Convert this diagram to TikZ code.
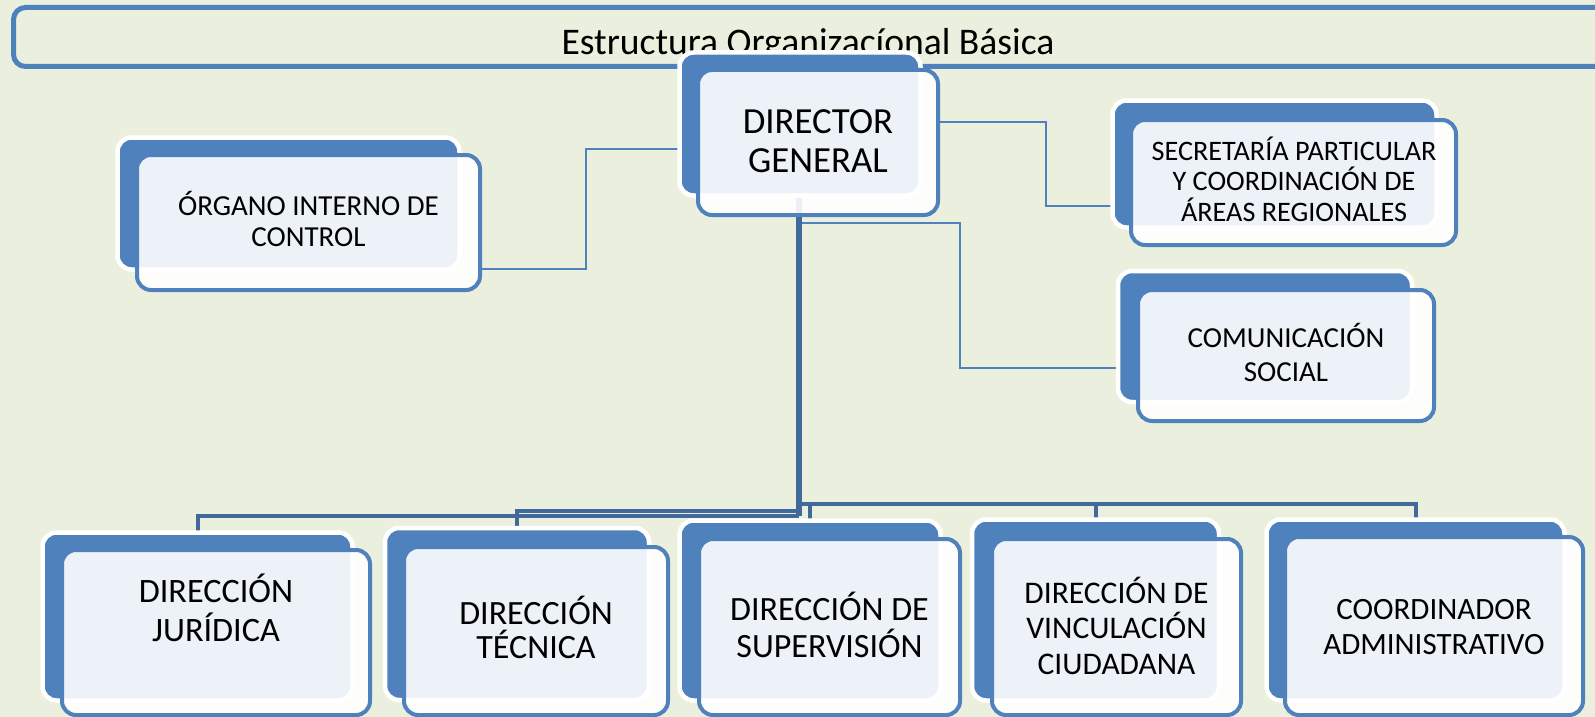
\documentclass[tikz,border=0pt]{standalone}
\usepackage{fontspec}
\setmainfont{Carlito}
\definecolor{acc}{RGB}{79,129,189}
\definecolor{busc}{RGB}{65,105,155}
\definecolor{bgc}{RGB}{235,240,222}
\pgfdeclarelayer{bglayer}
\pgfdeclarelayer{lines}
\pgfsetlayers{bglayer,lines,main}
\tikzset{
  backbox/.style={draw=white, fill=acc, line width=4.5pt, rounded corners=14pt, inner sep=0pt, outer sep=0pt},
  frontbox/.style={draw=acc, fill=white, fill opacity=0.9, draw opacity=1, line width=4pt, rounded corners=14pt, inner sep=0pt, outer sep=0pt},
  lbl/.style={inner sep=0pt, align=center, text=black},
  conn/.style={draw=acc, line width=2pt},
  busline/.style={draw=busc, line width=4pt},
  titleframe/.style={draw=acc, line width=5pt, rounded corners=12pt, inner sep=0pt},
}
\begin{document}
\begin{tikzpicture}[x=1pt,y=-1pt]
\useasboundingbox (0,0) rectangle (1595,717);
\begin{pgfonlayer}{bglayer}
\fill[bgc] (0,0) rectangle (1595,717);
\end{pgfonlayer}
% title
\node[titleframe, minimum width=1606.5pt, minimum height=59pt] (tframe) at (816.75,37) {};
\node[lbl, anchor=base, font=\fontsize{37.6}{44}\selectfont] (title) at (808,55) {Estructura Organizacíonal Básica};
% Organo interno de control
\node[backbox, minimum width=342pt, minimum height=132pt] (oback) at (288.5,203.5) {};
\node[frontbox, minimum width=343pt, minimum height=135pt] (ofront) at (308.5,222.5) {};
\node[lbl, font=\fontsize{29}{31}\selectfont] (otext) at (308.5,231) {\smash{ÓRGANO INTERNO DE}\\\smash{CONTROL}};
% Director general
\node[backbox, minimum width=241pt, minimum height=143pt] (dback) at (800,124) {};
\node[frontbox, minimum width=240pt, minimum height=145pt] (dfront) at (818,142.5) {};
\node[lbl, font=\fontsize{36.8}{39.4}\selectfont] (dtext) at (818,153) {\smash{DIRECTOR}\\\smash{GENERAL}};
% Secretaria particular
\node[backbox, minimum width=324pt, minimum height=127pt] (sback) at (1274.5,164) {};
\node[frontbox, minimum width=325pt, minimum height=125pt] (sfront) at (1293.5,182.5) {};
\node[lbl, font=\fontsize{28.2}{30.8}\selectfont] (stext) at (1294,190.8) {\smash{SECRETARÍA PARTICULAR}\\\smash{Y COORDINACIÓN DE}\\\smash{ÁREAS REGIONALES}};
% Comunicacion social
\node[backbox, minimum width=294pt, minimum height=131pt] (cback) at (1265,336.5) {};
\node[frontbox, minimum width=296pt, minimum height=131pt] (cfront) at (1286,355.5) {};
\node[lbl, font=\fontsize{29}{33.5}\selectfont] (ctext) at (1286,364.7) {\smash{COMUNICACIÓN}\\\smash{SOCIAL}};
% Bottom row
\node[backbox, minimum width=310pt, minimum height=168pt] (b1back) at (197.5,616.5) {};
\node[frontbox, minimum width=308pt, minimum height=165pt] (b1front) at (216,632.5) {};
\node[lbl, font=\fontsize{34.2}{38.3}\selectfont] (b1text) at (216,622) {\smash{DIRECCIÓN}\\\smash{JURÍDICA}};
\node[backbox, minimum width=264pt, minimum height=172pt] (b2back) at (517,614) {};
\node[frontbox, minimum width=264pt, minimum height=168pt] (b2front) at (536,631) {};
\node[lbl, font=\fontsize{34}{34.7}\selectfont] (b2text) at (536,641.4) {\smash{DIRECCIÓN}\\\smash{TÉCNICA}};
\node[backbox, minimum width=261pt, minimum height=180pt] (b3back) at (810,610.5) {};
\node[frontbox, minimum width=261pt, minimum height=176pt] (b3front) at (829.5,627) {};
\node[lbl, font=\fontsize{34}{37.3}\selectfont] (b3text) at (829.5,638.7) {\smash{DIRECCIÓN DE}\\\smash{SUPERVISIÓN}};
\node[backbox, minimum width=247pt, minimum height=181pt] (b4back) at (1095.5,610) {};
\node[frontbox, minimum width=249pt, minimum height=176pt] (b4front) at (1116.5,627) {};
\node[lbl, font=\fontsize{31.5}{35.6}\selectfont] (b4text) at (1116.5,638.6) {\smash{DIRECCIÓN DE}\\\smash{VINCULACIÓN}\\\smash{CIUDADANA}};
\node[backbox, minimum width=298pt, minimum height=181pt] (b5back) at (1415.5,610) {};
\node[frontbox, minimum width=298pt, minimum height=178pt] (b5front) at (1434,626) {};
\node[lbl, font=\fontsize{31}{35}\selectfont] (b5text) at (1434,637) {\smash{COORDINADOR}\\\smash{ADMINISTRATIVO}};
% connectors
\coordinate (cstart) at (799,223);
\begin{pgfonlayer}{lines}
\draw[conn] (ofront.east |- 0,269) -- (586,269) -- (586,149) -- (dback.west |- 0,149);
\draw[conn] (dfront.east |- 0,122) -- (1046,122) -- (1046,206) -- (sback.west |- 0,206);
\draw[conn] (cstart) -- (960,223) -- (960,368) -- (cback.west |- 0,368);
\draw[busline, line width=6pt] (dback.center -| 799,0) -- (799,516);
\draw[busline] (799,516) -| (b1back.north);
\draw[busline] (799,511) -| (b2back.north);
\draw[busline] (799,504) -| (b3back.north);
\draw[busline] (799,503.5) -| (b4back.north);
\draw[busline] (799,503.5) -| (b5back.north);
\end{pgfonlayer}
\end{tikzpicture}
\end{document}
